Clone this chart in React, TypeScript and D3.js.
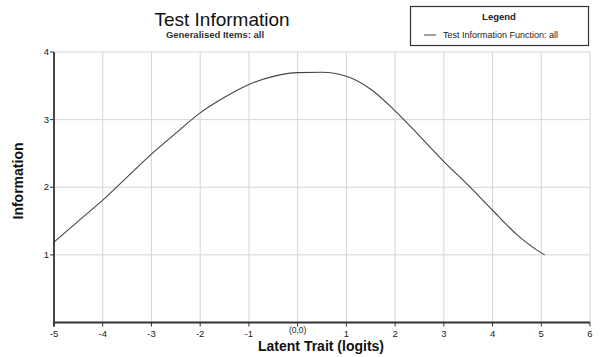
import { useMemo } from "react";
import { scaleLinear, line, curveMonotoneX } from "d3";

const WIDTH = 600;
const HEIGHT = 357;

// values
const theta = [-5, -4.5, -4, -3.5, -3, -2.5, -2, -1.5, -1, -0.5, 0, 0.5, 1, 1.5, 2, 2.5, 3, 3.5, 4, 4.5, 5, 5.07];
const information = [1.19, 1.5, 1.81, 2.15, 2.49, 2.8, 3.1, 3.33, 3.52, 3.64, 3.695, 3.7, 3.64, 3.45, 3.13, 2.76, 2.38, 2.03, 1.66, 1.3, 1.03, 1.0];

const xTicks = [-5, -4, -3, -2, -1, 0, 1, 2, 3, 4, 5, 6];
const xTickLabels = ["-5", "-4", "-3", "-2", "-1", "(0,0)", "1", "2", "3", "4", "5", "6"];
const yTicks = [1, 2, 3, 4];
const yGrid = [1, 2, 3, 4];

const FONT = "Arial, 'Liberation Sans', sans-serif";
const NARROW = "'Liberation Sans Narrow', 'Arial Narrow', Arial, sans-serif";

const margin = { left: 54, right: 10, top: 52, bottom: 34 };

export default function App() {
  const x = useMemo(() => scaleLinear().domain([-5, 6]).range([margin.left, 590]), []);
  const y = useMemo(() => scaleLinear().domain([0, 4]).range([HEIGHT - margin.bottom - 0.5, margin.top]), []);
  const path = useMemo(
    () =>
      line<number>()
        .x((_, i) => x(theta[i]))
        .y((d) => y(d))
        .curve(curveMonotoneX)(information),
    [x, y]
  );
  const x0 = x(-5);
  const y0 = y(0);

  return (
    <svg
      width={WIDTH}
      height={HEIGHT}
      style={{ position: "absolute", left: 0, top: 0, background: "#fff" }}
      fontFamily={FONT}
    >
      <rect width={WIDTH} height={HEIGHT} fill="#fff" />
      {/* grid */}
      {xTicks.slice(1).map((t) => (
        <line key={`gx${t}`} x1={x(t)} x2={x(t)} y1={y(4)} y2={y0} stroke="#d6d6d6" strokeWidth={1} />
      ))}
      {yGrid.map((t) => (
        <line key={`gy${t}`} x1={x0} x2={x(6)} y1={y(t)} y2={y(t)} stroke="#d6d6d6" strokeWidth={1} />
      ))}

      {/* curve */}
      {path ? <path d={path} fill="none" stroke="#444" strokeWidth={1.1} /> : null}

      {/* axes */}
      <line x1={x0} x2={x0} y1={y(4)} y2={y0 + 4} stroke="#333" strokeWidth={1.8} />
      <line x1={x0 - 1} x2={x(6)} y1={y0} y2={y0} stroke="#333" strokeWidth={1.8} />
      {xTicks.map((t, i) => (
        <g key={`xt${t}`}>
          <line x1={x(t)} x2={x(t)} y1={y0} y2={y0 + 4} stroke="#333" strokeWidth={1} />
          <text
            x={x(t)}
            y={t === 0 ? y0 + 10 : y0 + 14}
            fontSize={t === 0 ? 8.5 : 9.5}
            textAnchor="middle"
            fill="#222"
            fontFamily={NARROW}
          >
            {xTickLabels[i]}
          </text>
        </g>
      ))}
      {yTicks.map((t) => (
        <g key={`yt${t}`}>
          <line x1={x0 - 4} x2={x0} y1={y(t)} y2={y(t)} stroke="#333" strokeWidth={1} />
          <text x={x0 - 5} y={y(t) + 3} fontSize={9.5} textAnchor="end" fill="#222" fontFamily={NARROW}>
            {t}
          </text>
        </g>
      ))}

      {/* axis titles */}
      <text x={321} y={351} fontSize={14} fontWeight="bold" textAnchor="middle" fill="#111">
        Latent Trait (logits)
      </text>
      <text
        transform={`translate(23,181) rotate(-90)`}
        fontSize={14}
        fontWeight="bold"
        textAnchor="middle"
        fill="#111"
      >
        Information
      </text>

      {/* title */}
      <text x={222} y={26} fontSize={19} textAnchor="middle" fill="#111">
        Test Information
      </text>
      <text x={215} y={38} fontSize={9.5} fontWeight="bold" textAnchor="middle" fill="#333" fontFamily={NARROW}>
        Generalised Items: all
      </text>

      {/* legend */}
      <rect x={410.5} y={6.5} width={178} height={39} fill="#fff" stroke="#333" strokeWidth={1.2} />
      <text x={499} y={20} fontSize={9.5} fontWeight="bold" textAnchor="middle" fill="#222" fontFamily={NARROW}>
        Legend
      </text>
      <line x1={424} x2={436} y1={35} y2={35} stroke="#444" strokeWidth={1} />
      <text x={443} y={38} fontSize={9} fill="#222" fontFamily={NARROW}>
        Test Information Function: all
      </text>
    </svg>
  );
}
